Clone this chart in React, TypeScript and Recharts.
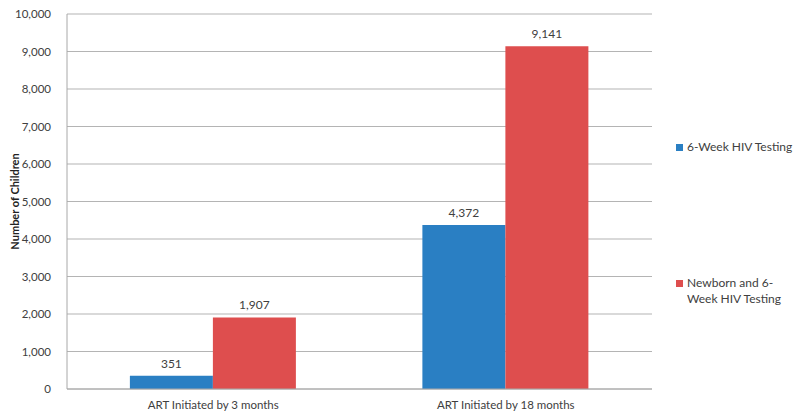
import React from 'react'
import {
  BarChart,
  Bar,
  XAxis,
  YAxis,
  CartesianGrid,
  LabelList,
  Label,
} from 'recharts'

const categories = ['ART Initiated by 3 months', 'ART Initiated by 18 months']
const sixWeek = [351, 4372]
const newbornSixWeek = [1907, 9141]
const yTicks = [0, 1000, 2000, 3000, 4000, 5000, 6000, 7000, 8000, 9000, 10000]

const BLUE = '#2a7fc3'
const RED = '#de4e4e'
const FONT = 'Lato, "Open Sans", sans-serif'

const data = categories.map((c, i) => ({
  name: c,
  sixWeek: sixWeek[i],
  newborn: newbornSixWeek[i],
}))

const fmt = (v: number) => v.toLocaleString('en-US')

// legend drawn as an overlay so it doesn't eat into the plot area
const LegendBox = () => (
  <div
    style={{
      position: 'absolute',
      left: 676,
      top: 139,
      width: 124,
      fontFamily: FONT,
      fontSize: 12,
      color: '#404040',
      lineHeight: '16px',
    }}
  >
    <div style={{ display: 'flex', alignItems: 'flex-start', marginBottom: 120 }}>
      <span style={{ width: 7, height: 7, background: BLUE, marginTop: 5, marginRight: 4, flexShrink: 0 }} />
      <span>6-Week HIV Testing</span>
    </div>
    <div style={{ display: 'flex', alignItems: 'flex-start' }}>
      <span style={{ width: 7, height: 7, background: RED, marginTop: 5, marginRight: 4, flexShrink: 0 }} />
      <span>
        Newborn and 6-
        <br />
        Week HIV Testing
      </span>
    </div>
  </div>
)

export default function App() {
  return (
    <div style={{ position: 'absolute', left: 0, top: 0, width: 800, height: 418, background: '#fff' }}>
      <BarChart
        width={800}
        height={418}
        data={data}
        margin={{ top: 14, right: 148, bottom: 0, left: 0 }}
        barCategoryGap="21.5%"
        barGap={0}
      >
        <CartesianGrid vertical={false} stroke="#b4b4b4" strokeWidth={1.2} />
        <XAxis
          dataKey="name"
          height={29}
          stroke="#a8a8a8"
          tickLine={false}
          tick={{ fill: '#404040', fontSize: 11.5, fontFamily: FONT }}
          tickMargin={6}
        />
        <YAxis
          width={67}
          domain={[0, 10000]}
          ticks={yTicks}
          tickFormatter={fmt}
          stroke="#a8a8a8"
          tickLine={false}
          tick={{ fill: '#404040', fontSize: 11.5, fontFamily: FONT }}
          tickMargin={10}
        >
          <Label
            value="Number of Children"
            angle={-90}
            position="insideLeft"
            offset={15}
            style={{ textAnchor: 'middle', fontWeight: 700, fontSize: 11, fill: '#222', fontFamily: FONT }}
          />
        </YAxis>
        <Bar dataKey="sixWeek" name="6-Week HIV Testing" fill={BLUE} isAnimationActive={false}>
          <LabelList
            dataKey="sixWeek"
            position="top"
            offset={8}
            formatter={(v: any) => fmt(v)}
            style={{ fill: '#404040', fontSize: 12, fontFamily: FONT }}
          />
        </Bar>
        <Bar dataKey="newborn" name="Newborn and 6-Week HIV Testing" fill={RED} isAnimationActive={false}>
          <LabelList
            dataKey="newborn"
            position="top"
            offset={8}
            formatter={(v: any) => fmt(v)}
            style={{ fill: '#404040', fontSize: 12, fontFamily: FONT }}
          />
        </Bar>
      </BarChart>
      <LegendBox />
    </div>
  )
}
